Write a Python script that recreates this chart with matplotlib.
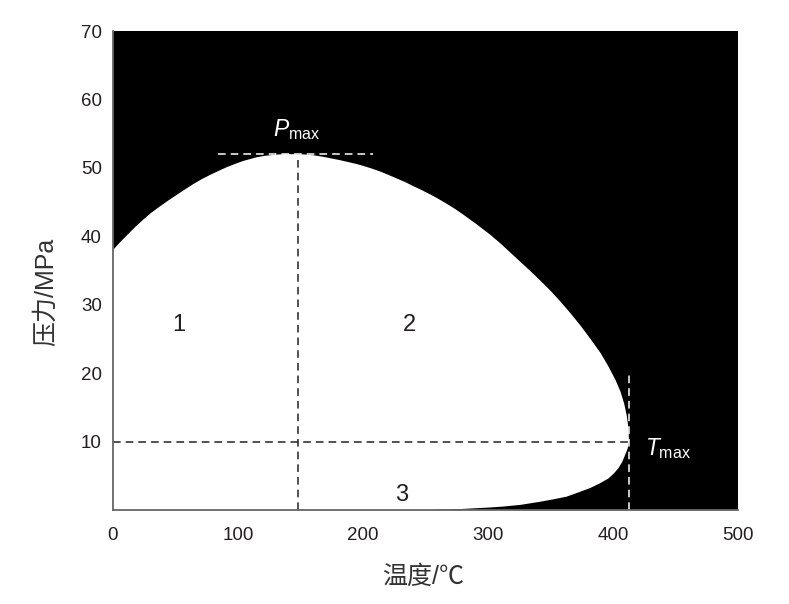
import matplotlib
matplotlib.use('Agg')
import matplotlib.pyplot as plt

plt.rcParams['font.family'] = ['Liberation Sans', 'Noto Sans CJK SC', 'DejaVu Sans']
plt.rcParams['mathtext.fontset'] = 'custom'
plt.rcParams['mathtext.rm'] = 'Liberation Sans'
plt.rcParams['mathtext.it'] = 'Liberation Sans:italic'

# envelope of the white region (clockwise from origin)
boundary_temp = [0, 0, 6, 12, 18, 24, 30, 37, 44, 51, 58, 64, 71, 78, 85, 91,
                 98, 104, 110, 115, 121, 126, 132, 137, 142, 147,
                 154, 160, 167, 174, 181, 187, 194, 200, 207, 214, 220, 227,
                 234, 240, 247, 254, 260, 267, 274, 280, 286, 291, 297, 302,
                 310, 318, 326, 334, 342, 350, 358, 366, 374, 382, 390, 396,
                 402, 406, 409, 411, 412.2, 412.6, 412.7,
                 411.8, 409.6, 407.3, 404.3, 400.5, 396.3, 389, 381.6, 372,
                 362.9, 352, 341.6, 326, 312, 300, 278, 254]
boundary_pres = [0, 38.0, 39.2, 40.3, 41.4, 42.4, 43.35, 44.3, 45.2, 46.05,
                 46.9, 47.6, 48.35, 49.0, 49.6, 50.1, 50.6, 51.0, 51.3, 51.55,
                 51.75, 51.85, 51.95, 52.0, 52.0, 52.0,
                 51.95, 51.85, 51.65, 51.4, 51.15, 50.9, 50.6, 50.3, 49.9,
                 49.45, 49.0, 48.45, 47.9, 47.35, 46.75, 46.1, 45.5, 44.75,
                 43.95, 43.2, 42.4, 41.75, 40.9, 40.2, 38.95, 37.6, 36.25,
                 34.9, 33.5, 32.05, 30.45, 28.75, 26.95, 25.0, 22.95, 21.1,
                 19.0, 17.3, 15.5, 13.8, 12.2, 11.1, 10.2,
                 9.0, 8.0, 7.0, 6.1, 5.3, 4.6, 3.85, 3.2, 2.55, 1.95, 1.55,
                 1.2, 0.75, 0.5, 0.35, 0.14, 0]

t_at_pmax, p_max = 148, 52
t_max, p_at_tmax = 412.5, 10
pmax_line = [84, 208]
tmax_line_top = 20

region_names = ['1', '2', '3']
region_temp = [53, 237, 231]
region_pres = [27, 27, 2.2]

xticks = [0, 100, 200, 300, 400, 500]
yticks = [10, 20, 30, 40, 50, 60, 70]

txt = '#231f20'
dash = (0, (5, 3.3))

fig = plt.figure(figsize=(7.89, 6.04), dpi=100)
ax = fig.add_axes([113 / 789, 1 - 510 / 604, 625 / 789, 479 / 604])
ax.set_facecolor('black')
ax.fill(boundary_temp, boundary_pres, color='white', lw=0, zorder=1)

ax.plot([t_at_pmax, t_at_pmax], [0, p_max], color='#222222', lw=1.1, ls=dash, zorder=2)
ax.plot(pmax_line, [p_max, p_max], color='white', lw=1.1, ls=dash, zorder=2)
ax.plot([0, t_max], [p_at_tmax, p_at_tmax], color='#222222', lw=1.1, ls=dash, zorder=2)
ax.plot([t_max, t_max], [0, tmax_line_top], color='white', lw=1.1, ls=dash, zorder=2)

ax.text(t_at_pmax - 1, 54.6, r'$P_{\mathrm{max}}$', color='white', fontsize=16.5,
        ha='center', va='baseline')
ax.text(t_max + 13, 8.0, r'$T_{\mathrm{max}}$', color='white', fontsize=16.5,
        ha='left', va='baseline')
for name, t, p in zip(region_names, region_temp, region_pres):
    ax.text(t, p, name, color=txt, fontsize=17, ha='center', va='center')

ax.set_xlim(0, 500)
ax.set_ylim(0, 70)
ax.set_xticks(xticks)
ax.set_yticks(yticks)
ax.tick_params(length=0, labelsize=13.5, labelcolor=txt)
ax.tick_params(axis='x', pad=12)
ax.tick_params(axis='y', pad=8)
for side in ['top', 'right']:
    ax.spines[side].set_visible(False)
for side in ['left', 'bottom']:
    ax.spines[side].set_color('#666666')
    ax.spines[side].set_linewidth(1.3)

fig.text(423 / 789, 1 - 577 / 604, '温度/℃', fontsize=18, color='#333333',
         ha='center', va='center')
fig.text(46 / 789, 1 - 292 / 604, '压力/MPa', fontsize=18, color='#333333',
         ha='center', va='center', rotation=90)

fig.savefig('out.png', dpi=100)
